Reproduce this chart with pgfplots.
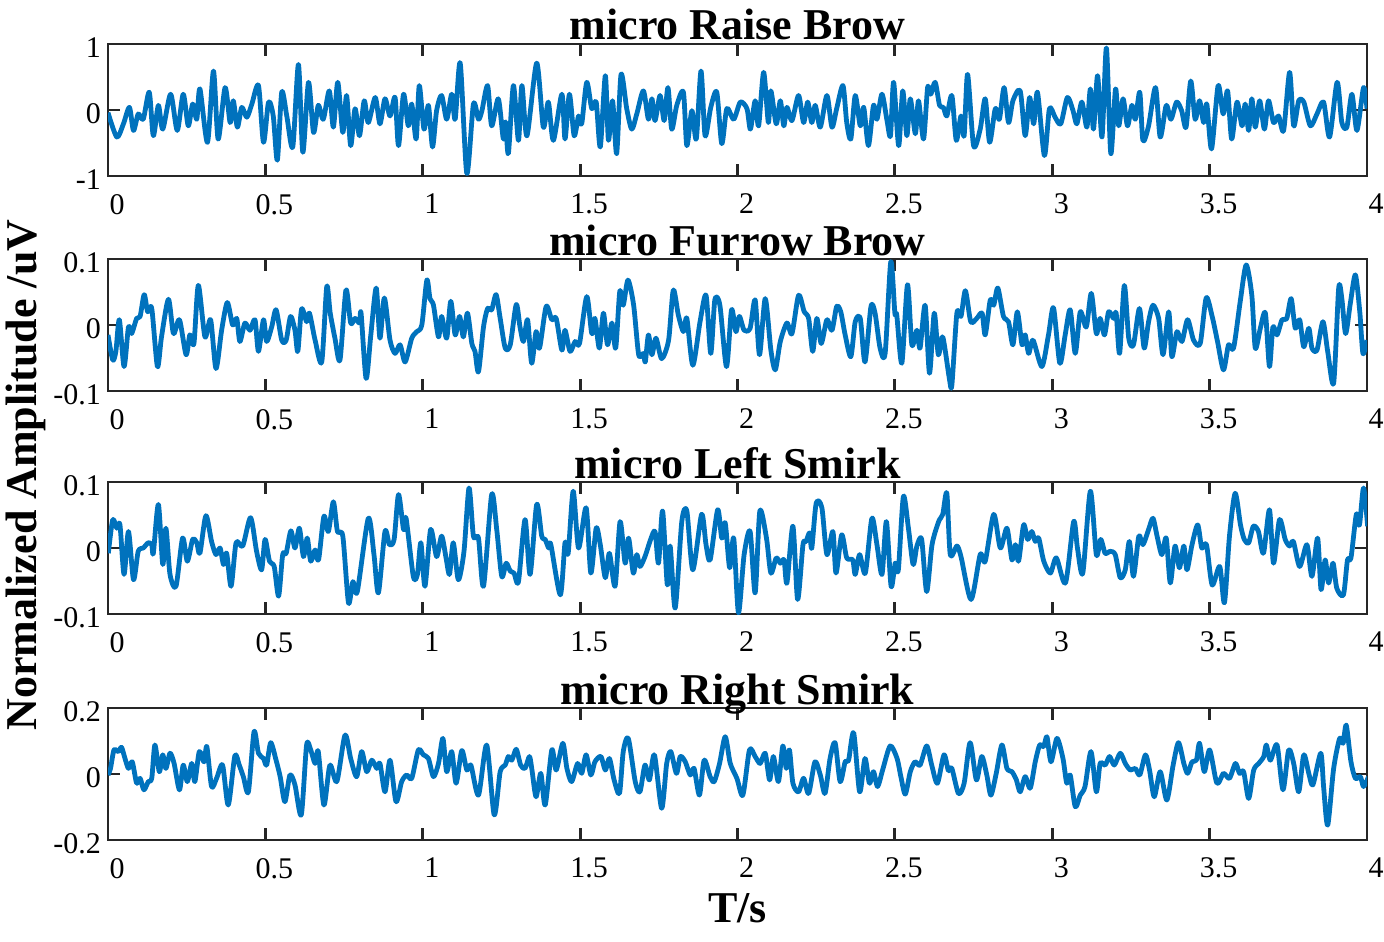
\documentclass[border=0pt]{standalone}
\usepackage{fontspec}
\setmainfont{Liberation Serif}
\usepackage{pgfplots}
\usepackage{pgfplotstable}
\pgfplotsset{compat=1.18}
\definecolor{matblue}{RGB}{0,114,189}
\definecolor{frame}{RGB}{38,38,38}

\pgfplotstableread{
t y
0 -0.04
0.028 -0.41
0.049 -0.21
0.068 0.04
0.081 -0.31
0.096 -0.06
0.112 -0.14
0.131 0.27
0.144 -0.39
0.160 0.07
0.174 -0.29
0.199 0.24
0.220 -0.31
0.239 0.24
0.255 -0.24
0.269 0.09
0.282 -0.14
0.292 0.32
0.316 -0.49
0.335 0.59
0.350 -0.44
0.372 0.34
0.388 -0.19
0.398 0.14
0.411 -0.26
0.425 0.04
0.441 -0.11
0.457 0.09
0.478 0.37
0.494 -0.49
0.510 0.12
0.525 -0.09
0.538 -0.76
0.552 0.27
0.568 -0.09
0.587 -0.56
0.605 0.69
0.619 -0.64
0.637 0.42
0.653 -0.34
0.668 0.07
0.684 -0.14
0.703 0.29
0.716 -0.26
0.730 0.42
0.746 -0.34
0.758 0.22
0.771 -0.54
0.785 0.02
0.799 -0.39
0.814 0.14
0.827 -0.19
0.849 0.19
0.864 -0.21
0.880 0.17
0.896 -0.09
0.912 0.19
0.923 -0.54
0.939 0.24
0.954 -0.24
0.965 0.09
0.979 -0.44
0.989 0.37
1.004 -0.29
1.018 0.07
1.031 -0.56
1.044 -0.01
1.060 0.22
1.076 -0.14
1.092 0.24
1.103 -0.14
1.119 0.71
1.140 -0.96
1.161 0.09
1.177 -0.14
1.188 -0.01
1.206 0.37
1.219 -0.24
1.240 0.17
1.256 -0.44
1.263 -0.18
1.272 -0.66
1.288 0.37
1.304 -0.46
1.315 0.37
1.331 -0.39
1.362 0.71
1.383 -0.26
1.399 0.12
1.415 -0.46
1.442 0.24
1.452 -0.44
1.466 0.24
1.481 -0.39
1.495 -0.09
1.505 -0.21
1.521 0.42
1.537 0.02
1.551 0.12
1.564 -0.56
1.580 0.52
1.590 -0.46
1.603 0.14
1.616 -0.66
1.630 0.54
1.648 0.02
1.664 -0.29
1.680 -0.06
1.701 0.29
1.717 -0.14
1.728 0.17
1.738 -0.16
1.754 0.22
1.767 -0.16
1.779 0.34
1.791 -0.29
1.807 0.07
1.828 0.27
1.839 -0.54
1.855 -0.01
1.869 -0.44
1.884 0.59
1.897 -0.39
1.915 0.04
1.934 0.27
1.950 -0.51
1.966 0.02
1.988 -0.14
2.009 0.12
2.030 0.02
2.041 -0.29
2.056 0.14
2.067 -0.24
2.083 0.57
2.098 -0.19
2.106 0.29
2.123 -0.21
2.136 0.14
2.147 -0.24
2.157 0.04
2.173 -0.16
2.194 0.22
2.210 -0.19
2.223 0.12
2.236 -0.19
2.247 0.07
2.263 -0.26
2.284 0.22
2.300 -0.26
2.315 0.02
2.335 0.37
2.347 -0.19
2.360 -0.44
2.374 0.22
2.390 -0.24
2.401 0.04
2.416 -0.54
2.432 0.07
2.443 -0.14
2.459 0.24
2.475 -0.16
2.486 -0.39
2.496 0.42
2.512 -0.54
2.525 0.29
2.538 -0.39
2.549 0.17
2.565 -0.36
2.575 0.14
2.591 -0.44
2.604 0.34
2.614 0.24
2.628 0.42
2.642 0.07
2.654 0.04
2.665 -0.09
2.681 0.22
2.695 -0.46
2.710 -0.09
2.720 -0.39
2.731 0.54
2.750 -0.54
2.771 -0.29
2.787 0.17
2.801 -0.49
2.819 0.02
2.832 -0.14
2.847 0.34
2.861 -0.19
2.875 0.14
2.898 0.29
2.914 -0.39
2.928 0.19
2.941 -0.21
2.953 0.27
2.975 -0.69
2.991 0.02
3.009 -0.11
3.027 -0.21
3.048 0.19
3.066 -0.01
3.078 -0.21
3.094 0.12
3.110 -0.26
3.121 0.32
3.131 -0.29
3.144 0.52
3.158 -0.41
3.172 0.94
3.186 -0.66
3.201 0.32
3.211 -0.24
3.225 0.17
3.239 -0.24
3.253 0.07
3.264 -0.14
3.278 0.27
3.288 -0.46
3.306 -0.24
3.328 0.34
3.343 -0.41
3.362 0.07
3.377 -0.14
3.395 0.12
3.411 -0.01
3.425 -0.26
3.440 0.44
3.454 -0.14
3.468 0.14
3.481 -0.19
3.491 0.09
3.506 -0.59
3.527 0.37
3.543 -0.06
3.557 0.29
3.570 -0.44
3.587 0.12
3.603 -0.24
3.613 0.09
3.624 -0.31
3.634 0.17
3.645 -0.26
3.659 0.14
3.674 -0.29
3.687 0.14
3.703 -0.19
3.719 -0.09
3.735 -0.31
3.754 0.57
3.767 -0.24
3.783 0.14
3.799 0.12
3.820 -0.24
3.841 -0.06
3.862 0.12
3.881 -0.41
3.905 0.42
3.920 -0.19
3.936 -0.26
3.952 0.24
3.968 -0.31
3.989 0.34
4.000 0.02
}\raisebrow

\pgfplotstableread{
t y
0 -0.015
0.015 -0.053
0.025 -0.040
0.036 0.008
0.051 -0.063
0.065 -0.003
0.075 -0.013
0.091 0.010
0.102 0.013
0.115 0.046
0.126 0.020
0.139 0.025
0.157 -0.063
0.170 -0.018
0.192 0.039
0.208 -0.013
0.227 0.008
0.248 -0.045
0.260 -0.015
0.273 -0.028
0.287 0.060
0.308 -0.018
0.326 0.008
0.343 -0.066
0.361 -0.008
0.379 0.034
0.396 0.000
0.409 0.010
0.419 -0.025
0.435 0.003
0.451 -0.008
0.467 0.008
0.478 -0.040
0.494 0.008
0.504 -0.025
0.520 -0.003
0.534 0.023
0.552 -0.023
0.566 -0.023
0.580 0.013
0.594 -0.008
0.603 -0.040
0.615 0.024
0.631 0.005
0.640 0.018
0.658 -0.023
0.679 -0.056
0.695 0.058
0.706 0.018
0.721 -0.020
0.737 -0.053
0.756 0.053
0.771 0.003
0.785 0.010
0.799 0.003
0.804 0.018
0.820 -0.081
0.835 -0.015
0.852 0.056
0.864 -0.020
0.878 0.041
0.896 -0.023
0.912 -0.043
0.928 -0.030
0.944 -0.056
0.965 -0.020
0.981 -0.010
0.997 0.000
1.013 0.068
1.023 0.040
1.034 0.030
1.050 -0.018
1.060 0.013
1.076 -0.020
1.089 0.036
1.103 -0.015
1.117 0.013
1.129 -0.018
1.142 0.018
1.156 -0.028
1.166 -0.040
1.177 -0.071
1.193 -0.003
1.206 0.025
1.219 0.023
1.233 0.046
1.246 0.010
1.262 -0.035
1.278 -0.030
1.297 0.031
1.309 -0.003
1.320 -0.025
1.333 0.008
1.346 -0.058
1.360 -0.010
1.371 -0.035
1.392 0.028
1.410 0.008
1.424 0.010
1.442 -0.038
1.452 -0.008
1.468 -0.040
1.484 -0.025
1.498 -0.028
1.521 0.043
1.537 -0.013
1.547 0.010
1.561 -0.035
1.574 0.018
1.587 -0.030
1.601 0.003
1.613 -0.035
1.626 0.051
1.637 0.030
1.652 0.068
1.670 0.030
1.686 -0.045
1.701 -0.043
1.707 -0.056
1.717 -0.015
1.728 -0.045
1.741 -0.020
1.759 -0.051
1.781 -0.023
1.796 0.053
1.812 0.015
1.828 -0.010
1.839 0.010
1.858 -0.061
1.881 0.005
1.900 0.045
1.915 -0.043
1.928 0.038
1.944 0.030
1.965 -0.063
1.981 0.023
1.995 -0.010
2.006 0.013
2.021 -0.008
2.040 -0.005
2.056 0.038
2.070 -0.045
2.088 0.040
2.106 -0.038
2.120 -0.068
2.136 -0.025
2.157 0.003
2.173 -0.013
2.194 0.045
2.212 0.020
2.226 0.010
2.239 -0.040
2.252 0.010
2.266 -0.028
2.284 0.008
2.300 -0.008
2.315 0.028
2.328 0.020
2.342 -0.015
2.360 -0.048
2.374 0.005
2.390 0.010
2.405 -0.056
2.424 0.028
2.437 0.018
2.453 -0.035
2.469 -0.043
2.487 0.096
2.500 0.018
2.506 0.015
2.522 -0.058
2.540 0.061
2.554 -0.030
2.570 -0.008
2.580 -0.035
2.596 0.030
2.610 -0.073
2.625 0.018
2.638 -0.045
2.652 -0.018
2.673 -0.081
2.681 -0.091
2.697 0.018
2.710 0.013
2.724 0.052
2.741 0.005
2.760 0.010
2.777 0.018
2.787 -0.015
2.803 0.038
2.814 0.030
2.827 0.056
2.845 0.013
2.861 0.005
2.875 -0.030
2.889 0.020
2.904 -0.030
2.914 -0.015
2.925 -0.043
2.939 -0.023
2.967 -0.063
2.988 -0.015
3.004 0.026
3.024 -0.058
3.041 -0.015
3.057 0.023
3.073 -0.043
3.089 0.020
3.108 -0.003
3.124 0.048
3.140 -0.013
3.152 0.010
3.166 -0.015
3.179 0.020
3.195 0.010
3.203 0.018
3.214 -0.043
3.229 0.060
3.243 -0.020
3.258 -0.030
3.277 0.025
3.292 -0.035
3.306 0.005
3.320 0.030
3.338 0.010
3.352 -0.045
3.370 0.020
3.380 -0.048
3.396 -0.010
3.412 -0.025
3.430 0.008
3.449 -0.023
3.470 -0.028
3.489 0.041
3.508 0.013
3.525 -0.025
3.544 -0.068
3.560 -0.030
3.576 -0.035
3.597 0.035
3.616 0.091
3.634 0.045
3.645 -0.035
3.661 -0.005
3.677 0.018
3.690 -0.063
3.701 -0.003
3.714 -0.015
3.730 0.008
3.745 0.010
3.759 0.040
3.772 -0.005
3.786 0.008
3.799 -0.033
3.815 -0.005
3.825 -0.035
3.841 -0.038
3.860 0.005
3.875 -0.040
3.894 -0.088
3.910 0.056
3.920 0.040
3.932 -0.013
3.947 0.033
3.963 0.076
3.977 0.020
3.987 -0.043
4.000 -0.023
}\furrowbrow

\pgfplotstableread{
t y
0.001 -0.008
0.015 0.043
0.028 0.030
0.038 0.035
0.051 -0.040
0.065 0.025
0.081 -0.048
0.096 -0.005
0.112 0.000
0.128 0.008
0.139 0.005
0.144 -0.008
0.160 0.066
0.174 -0.025
0.184 0.030
0.197 -0.040
0.216 -0.058
0.237 0.015
0.252 -0.020
0.269 0.013
0.282 0.008
0.292 -0.008
0.311 0.049
0.329 0.010
0.343 -0.010
0.356 0.000
0.367 -0.025
0.377 -0.008
0.391 -0.058
0.407 0.008
0.428 0.003
0.453 0.046
0.472 -0.005
0.488 -0.033
0.499 0.013
0.513 -0.020
0.528 -0.028
0.542 -0.073
0.555 -0.010
0.566 -0.008
0.581 0.026
0.594 0.000
0.608 0.030
0.621 -0.013
0.633 0.015
0.644 -0.020
0.658 -0.003
0.669 -0.018
0.686 0.048
0.700 0.025
0.716 0.070
0.729 0.025
0.746 0.018
0.764 -0.083
0.778 -0.051
0.792 -0.066
0.827 0.045
0.845 -0.010
0.859 -0.068
0.880 0.025
0.894 0.005
0.909 0.013
0.923 0.081
0.939 0.028
0.947 0.045
0.970 -0.043
0.983 -0.040
0.994 0.008
1.007 -0.058
1.025 0.028
1.044 -0.013
1.060 0.018
1.074 -0.015
1.085 -0.040
1.097 0.008
1.113 -0.048
1.131 -0.005
1.147 0.091
1.161 0.018
1.177 0.015
1.193 -0.058
1.219 0.081
1.235 0.028
1.251 -0.043
1.265 -0.023
1.278 -0.035
1.290 -0.038
1.304 -0.051
1.325 0.043
1.341 -0.040
1.362 0.066
1.378 0.018
1.389 0.013
1.400 0.000
1.407 0.005
1.437 -0.071
1.452 0.008
1.462 -0.008
1.478 0.086
1.495 0.000
1.519 0.061
1.534 -0.038
1.551 0.030
1.564 0.005
1.580 -0.045
1.593 -0.008
1.611 -0.058
1.627 0.040
1.643 -0.023
1.654 0.015
1.669 -0.038
1.680 -0.010
1.690 -0.028
1.706 -0.013
1.724 0.013
1.738 0.025
1.749 -0.023
1.762 0.056
1.777 -0.056
1.786 0.003
1.802 -0.091
1.823 0.040
1.839 0.056
1.858 -0.033
1.886 0.051
1.900 0.005
1.913 -0.018
1.937 0.058
1.950 0.015
1.961 0.038
1.975 -0.030
1.988 0.015
2.003 -0.098
2.021 -0.010
2.040 0.025
2.056 -0.068
2.071 0.056
2.092 0.015
2.106 -0.038
2.123 -0.015
2.136 -0.023
2.148 -0.018
2.157 -0.053
2.176 0.033
2.191 -0.078
2.208 0.005
2.218 0.010
2.229 0.023
2.236 0.000
2.250 0.068
2.268 0.061
2.284 -0.010
2.303 0.025
2.313 -0.038
2.331 0.020
2.347 -0.015
2.366 -0.018
2.374 -0.040
2.388 -0.010
2.406 -0.038
2.427 0.045
2.443 0.005
2.459 -0.040
2.473 0.040
2.488 -0.058
2.501 -0.023
2.511 -0.033
2.527 0.078
2.543 0.030
2.558 -0.025
2.570 0.003
2.585 0.013
2.601 -0.066
2.618 0.005
2.639 0.040
2.652 0.051
2.665 0.083
2.676 -0.010
2.697 0.003
2.710 -0.013
2.742 -0.078
2.771 -0.010
2.787 -0.020
2.814 0.051
2.835 0.000
2.856 0.030
2.872 -0.018
2.883 0.005
2.893 -0.020
2.909 0.035
2.922 0.013
2.935 0.025
2.946 0.010
2.957 0.015
2.973 -0.020
2.994 -0.038
3.013 -0.015
3.042 -0.053
3.068 0.040
3.080 0.000
3.097 -0.038
3.121 0.086
3.140 -0.010
3.154 0.013
3.168 -0.008
3.184 -0.005
3.200 -0.010
3.216 -0.045
3.232 -0.033
3.245 0.010
3.258 -0.043
3.275 0.018
3.288 0.005
3.306 0.028
3.320 0.045
3.333 0.018
3.348 -0.010
3.362 0.015
3.375 -0.053
3.390 0.003
3.404 -0.030
3.418 0.003
3.428 -0.033
3.444 0.005
3.462 0.035
3.475 0.000
3.490 0.005
3.508 -0.056
3.532 -0.028
3.547 -0.083
3.563 0.018
3.581 0.083
3.598 0.035
3.610 0.013
3.624 0.008
3.639 0.033
3.655 0.025
3.671 -0.008
3.690 0.058
3.703 -0.023
3.722 0.043
3.740 0.013
3.754 0.003
3.766 0.010
3.786 -0.028
3.809 0.005
3.825 -0.043
3.843 0.015
3.854 -0.063
3.867 -0.018
3.878 -0.053
3.892 -0.023
3.904 -0.061
3.925 -0.071
3.938 -0.018
3.949 -0.015
3.966 0.051
3.976 0.035
3.989 0.091
4.002 0.033
}\leftsmirk

\pgfplotstableread{
t y
0 -0.003
0.008 0.017
0.019 0.073
0.033 0.068
0.043 0.081
0.054 0.047
0.065 0.017
0.077 0.037
0.091 -0.028
0.102 -0.013
0.114 -0.048
0.128 -0.023
0.139 -0.013
0.149 0.088
0.163 0.007
0.174 0.058
0.184 0.017
0.197 0.063
0.210 0.032
0.227 -0.048
0.239 0.027
0.252 -0.023
0.266 0.032
0.276 -0.023
0.290 0.068
0.305 0.037
0.314 0.083
0.329 -0.038
0.345 -0.013
0.364 0.027
0.382 -0.094
0.403 0.055
0.417 0.027
0.430 -0.008
0.446 -0.054
0.464 0.128
0.478 0.063
0.494 0.047
0.504 0.027
0.517 0.095
0.534 0.042
0.547 -0.008
0.562 -0.084
0.578 -0.003
0.594 -0.033
0.614 -0.124
0.631 0.088
0.644 0.073
0.658 0.032
0.668 0.068
0.686 -0.094
0.705 0.027
0.727 -0.023
0.753 0.118
0.771 0.047
0.790 -0.008
0.806 0.068
0.822 0.007
0.838 0.042
0.854 0.017
0.864 0.032
0.880 -0.054
0.896 0.042
0.915 -0.084
0.933 -0.023
0.949 -0.003
0.965 -0.013
0.986 0.073
1.002 0.058
1.018 0.047
1.034 -0.008
1.050 0.032
1.064 0.108
1.076 0.007
1.092 0.068
1.106 -0.028
1.124 0.071
1.140 0.012
1.153 0.027
1.177 -0.064
1.203 0.088
1.227 -0.124
1.246 0.007
1.262 0.027
1.272 0.053
1.283 0.042
1.297 0.075
1.311 0.027
1.325 0.017
1.339 0.053
1.347 0.012
1.360 -0.069
1.375 0.002
1.389 -0.094
1.410 0.073
1.424 0.012
1.445 0.093
1.458 0.017
1.473 -0.023
1.492 0.032
1.505 0.002
1.519 0.058
1.534 -0.003
1.547 0.037
1.566 0.053
1.580 0.012
1.593 0.047
1.608 -0.018
1.625 -0.059
1.637 0.068
1.653 0.108
1.675 -0.023
1.690 -0.054
1.706 0.027
1.720 -0.018
1.736 0.058
1.759 -0.104
1.775 0.032
1.788 0.068
1.806 0.002
1.818 0.053
1.834 0.037
1.850 -0.003
1.862 0.017
1.879 -0.064
1.894 0.042
1.913 -0.008
1.926 -0.023
1.943 0.032
1.961 0.113
1.977 0.032
1.998 -0.013
2.017 -0.064
2.038 0.073
2.056 0.053
2.072 0.032
2.088 0.063
2.102 -0.018
2.114 0.053
2.130 -0.023
2.144 0.085
2.155 0.017
2.165 0.073
2.176 -0.028
2.194 -0.054
2.210 -0.013
2.226 -0.059
2.246 0.037
2.263 -0.003
2.278 -0.059
2.294 0.047
2.310 0.095
2.326 -0.023
2.342 0.037
2.353 0.042
2.369 0.125
2.388 -0.054
2.405 0.047
2.419 -0.028
2.432 0.007
2.445 -0.038
2.461 0.012
2.485 0.085
2.507 0.047
2.519 -0.008
2.533 -0.061
2.549 0.007
2.564 0.037
2.580 0.027
2.601 0.085
2.617 0.027
2.635 -0.028
2.656 0.058
2.670 0.010
2.681 0.017
2.702 -0.059
2.720 -0.028
2.739 0.095
2.759 -0.018
2.776 0.053
2.792 -0.003
2.805 -0.064
2.822 0.002
2.840 0.088
2.856 0.017
2.872 0.007
2.886 -0.018
2.898 -0.054
2.914 -0.008
2.930 -0.043
2.946 0.037
2.960 0.088
2.973 0.083
2.983 0.113
2.996 0.037
3.015 0.108
3.034 0.047
3.046 -0.028
3.057 -0.003
3.073 -0.099
3.089 -0.064
3.104 -0.038
3.123 0.068
3.140 -0.054
3.152 0.032
3.168 0.027
3.182 0.053
3.197 0.027
3.216 0.063
3.232 0.032
3.248 0.012
3.264 0.017
3.278 -0.003
3.296 0.058
3.309 0.012
3.324 -0.069
3.343 0.007
3.364 -0.079
3.384 0.027
3.401 0.095
3.418 0.032
3.430 0.002
3.444 0.037
3.458 0.042
3.468 0.093
3.483 0.007
3.500 0.073
3.523 -0.028
3.544 0.002
3.563 -0.013
3.582 0.032
3.595 0.002
3.608 0.007
3.624 -0.074
3.640 0.012
3.656 0.032
3.672 0.053
3.680 0.088
3.693 0.042
3.714 0.088
3.733 -0.048
3.751 0.073
3.767 0.032
3.783 -0.054
3.799 0.058
3.815 0.002
3.828 -0.033
3.853 0.063
3.862 -0.038
3.875 -0.155
3.894 0.017
3.913 0.108
3.924 0.093
3.934 0.148
3.949 0.037
3.963 -0.013
3.979 -0.008
3.989 -0.038
4.005 -0.008
}\rightsmirk

\pgfplotsset{
  sig/.style={line width=2.4pt, draw=matblue, line join=round, smooth, tension=0.45, mark=none},
  panel/.style={
    scale only axis,
    width=629.5pt, height=66pt,
    anchor=north west,
    xmin=0, xmax=4,
    xtick={0,0.5,1,1.5,2,2.5,3,3.5,4},
    xticklabels={0,0.5,1,1.5,2,2.5,3,3.5,4},
    tick align=inside,
    major tick length=6pt,
    axis line style={draw=frame, line width=1.4pt},
    tick style={draw=frame, line width=1.4pt},
    ticklabel style={font=\fontsize{15}{17}\selectfont, text=black},
    xticklabel style={xshift=4.5pt, yshift=-5.5pt},
    yticklabel style={yshift=-2pt},
    title style={font=\bfseries\fontsize{22}{24}\selectfont, at={(0.5,1)}, anchor=base, yshift=-4pt},
  }
}

\begin{document}
\begin{tikzpicture}
\path[use as bounding box] (0,0) rectangle (692pt,-470.5pt);

\begin{axis}[panel, at={(54pt,-22pt)}, title={micro Raise Brow},
  ymin=-1, ymax=1, ytick={-1,0,1}, yticklabels={-1,0,1}]
\addplot[sig] table[x=t,y=y] {\raisebrow};
\end{axis}

\begin{axis}[panel, at={(54pt,-129.5pt)}, title={micro Furrow Brow},
  ymin=-0.1, ymax=0.1, ytick={-0.1,0,0.1}, yticklabels={-0.1,0,0.1}]
\addplot[sig] table[x=t,y=y] {\furrowbrow};
\end{axis}

\begin{axis}[panel, at={(54pt,-241pt)}, title={micro Left Smirk},
  ymin=-0.1, ymax=0.1, ytick={-0.1,0,0.1}, yticklabels={-0.1,0,0.1}]
\addplot[sig] table[x=t,y=y] {\leftsmirk};
\end{axis}

\begin{axis}[panel, at={(54pt,-354pt)}, title={micro Right Smirk},
  ymin=-0.2, ymax=0.2, ytick={-0.2,0,0.2}, yticklabels={-0.2,0,0.2},
  xlabel={T/s},
  xlabel style={font=\bfseries\fontsize{22}{24}\selectfont, at={(axis description cs:0.5,0)}, anchor=base, yshift=-41pt}]
\addplot[sig] table[x=t,y=y] {\rightsmirk};
\end{axis}

\node[rotate=90, anchor=base, font=\bfseries\fontsize{22}{24}\selectfont] at (18pt,-237.5pt) {Normalized Amplitude /uV};
\end{tikzpicture}
\end{document}
